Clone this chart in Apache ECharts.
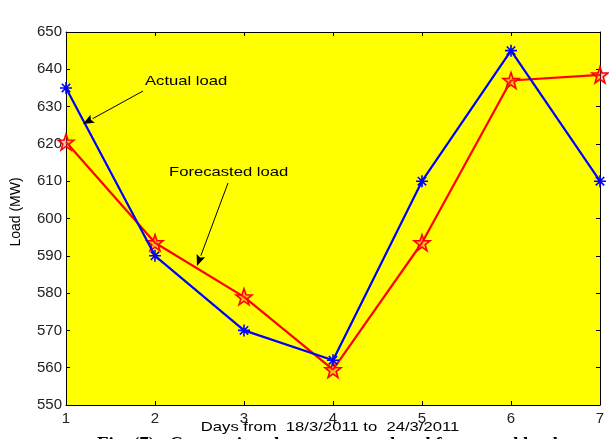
<!DOCTYPE html>
<html>
<head>
<meta charset="utf-8">
<script src="https://cdn.jsdelivr.net/npm/echarts@6/dist/echarts.min.js"></script>
<style>html,body{margin:0;padding:0;background:#fff;overflow:hidden}#c{width:609px;height:439px}</style>
</head>
<body>
<div id="c"></div>
<script>
var days = [1, 2, 3, 4, 5, 6, 7];
var actualLoad = [635, 590, 570, 562, 610, 645, 610];
var forecastLoad = [620.5, 593.5, 579, 559.5, 593.5, 637, 638.5];
var yTicks = [550, 560, 570, 580, 590, 600, 610, 620, 630, 640, 650];

var chart = echarts.init(document.getElementById('c'), null, {renderer: 'canvas'});
var asterisk = 'path://M0,-10L0,10M-10,0L10,0M-7,-7L7,7M-7,7L7,-7';
var star = 'path://M0,-10L2.35,-3.24L9.51,-3.09L3.8,1.24L5.88,8.09L0,4L-5.88,8.09L-3.8,1.24L-9.51,-3.09L-2.35,-3.24Z';

function pairs(v){ return days.map(function(d,i){ return [d, v[i]]; }); }

var axisFont = {fontFamily: 'Liberation Sans, Arial', fontSize: 15, color: '#222'};
var baseX = {type:'value', min:1, max:7, interval:1, axisLine:{show:true, onZero:false, lineStyle:{color:'#000', width:1}}, axisTick:{show:true, inside:true, length:4, lineStyle:{color:'#000'}}, splitLine:{show:false}};
var baseY = {type:'value', min:550, max:650, interval:10, axisLine:{show:true, onZero:false, lineStyle:{color:'#000', width:1}}, axisTick:{show:true, inside:true, length:4, lineStyle:{color:'#000'}}, splitLine:{show:false}};

function arrow(x1,y1,x2,y2){
  var dx=x2-x1, dy=y2-y1, L=Math.sqrt(dx*dx+dy*dy), ux=dx/L, uy=dy/L;
  var hl=11, hw=4.5;
  var bx=x2-ux*hl, by=y2-uy*hl;
  return [
    {type:'line', shape:{x1:x1,y1:y1,x2:bx,y2:by}, style:{stroke:'#000', lineWidth:1}, z:100},
    {type:'polygon', shape:{points:[[x2,y2],[bx-uy*hw,by+ux*hw],[bx+ux*2,by+uy*2],[bx+uy*hw,by-ux*hw]]}, style:{fill:'#000'}, z:100}
  ];
}

var graphics = [].concat(
  arrow(143,91,83,124),
  arrow(228,183,197,266),
  [
    {type:'text', x:145, y:75, scaleX:1.28, style:{text:'Actual load', font:'13px Liberation Sans, Arial', fill:'#000'}, z:100},
    {type:'text', x:169, y:166, scaleX:1.28, style:{text:'Forecasted load', font:'13px Liberation Sans, Arial', fill:'#000'}, z:100},
    {type:'text', x:330, y:421, scaleX:1.28, style:{text:'Days from  18/3/2011 to  24/3/2011', font:'13px Liberation Sans, Arial', fill:'#000', textAlign:'center'}, z:100},
    {type:'text', x:16, y:212, rotation:Math.PI/2, style:{text:'Load (MW)', font:'14px Liberation Sans, Arial', fill:'#000', textAlign:'center', textVerticalAlign:'middle'}, z:100},
    {type:'text', x:97, y:435.5, style:{text:'Fig. (7)   Comparison between actual and forecasted load', font:'bold 19px Liberation Serif, Times New Roman', fill:'#000'}, z:100}
  ]
);

chart.setOption({
  animation:false,
  backgroundColor:'#fff',
  grid:{left:66, right:9, top:32, bottom:34, show:true, backgroundColor:'#ffff00', borderWidth:0, containLabel:false, outerBoundsMode:'none'},
  xAxis:[
    Object.assign({}, baseX, {position:'bottom', axisLabel:Object.assign({margin:6}, axisFont)}),
    Object.assign({}, baseX, {position:'top', axisLabel:{show:false}})
  ],
  yAxis:[
    Object.assign({}, baseY, {position:'left', axisLabel:Object.assign({margin:4}, axisFont)}),
    Object.assign({}, baseY, {position:'right', axisLabel:{show:false}})
  ],
  series:[
    {type:'line', name:'Actual load', data:pairs(actualLoad), xAxisIndex:0, yAxisIndex:0, symbol:asterisk, symbolSize:12, lineStyle:{color:'#0000ff', width:2.2}, itemStyle:{color:'#0000ff', borderColor:'#0000ff', borderWidth:1.6}, z:3},
    {type:'line', name:'Forecasted load', data:pairs(forecastLoad), xAxisIndex:0, yAxisIndex:0, symbol:star, symbolSize:16, lineStyle:{color:'#ff0000', width:2.2}, itemStyle:{color:'rgba(255,80,80,0.35)', borderColor:'#ff0000', borderWidth:1.6}, z:2}
  ],
  graphic:graphics
});
</script>
</body>
</html>
